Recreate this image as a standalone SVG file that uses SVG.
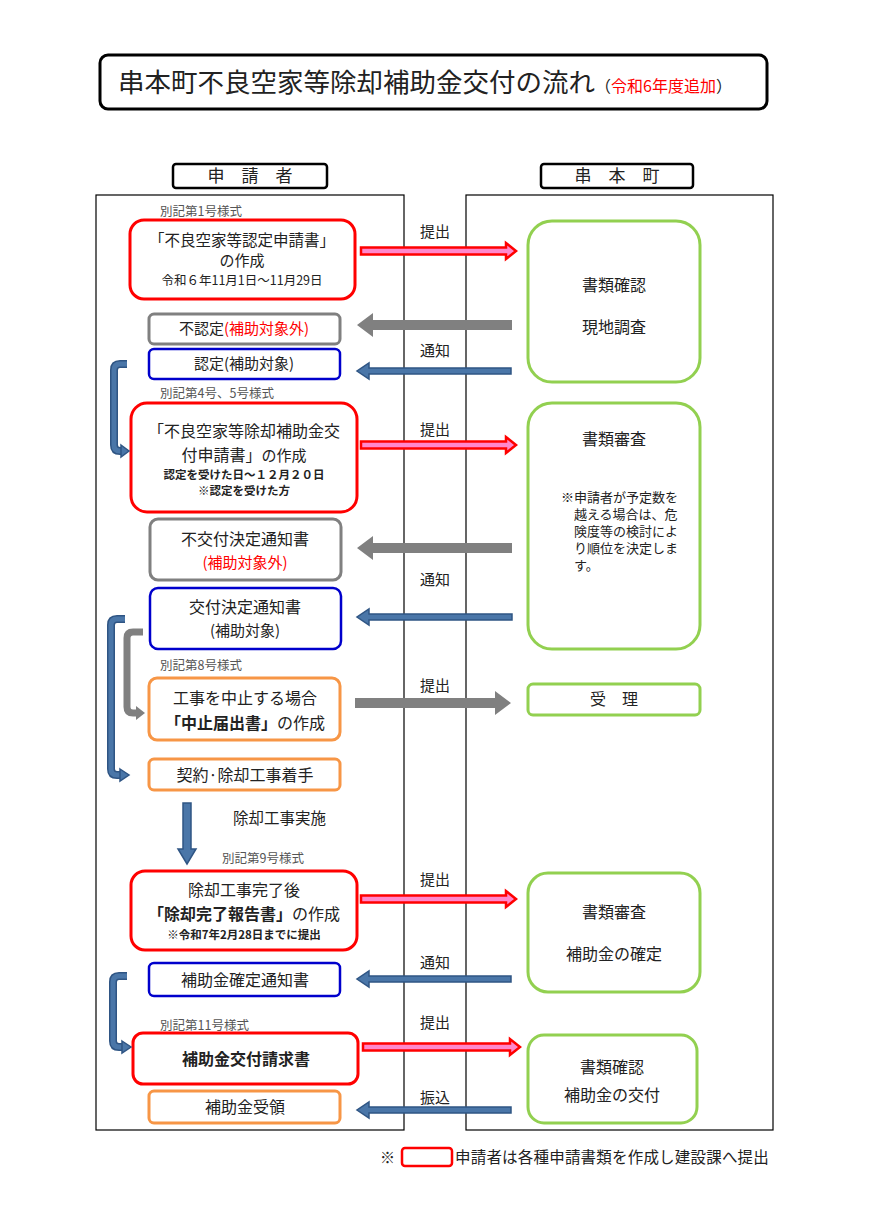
<svg xmlns="http://www.w3.org/2000/svg" width="870" height="1230" viewBox="0 0 870 1230">
<style>
text{font-family:"Noto Sans CJK JP","Noto Sans",sans-serif;fill:#222}
.t15{font-size:16px;text-anchor:middle}
.t14{font-size:15px;text-anchor:middle}
.t12b{font-size:11.5px;text-anchor:middle;font-weight:bold}
.lbl{font-size:12.5px;fill:#555}
.mid{font-size:15px;text-anchor:middle}
.red{fill:#ff0000}
.rbox{fill:#fff;stroke:#ff0000;stroke-width:3}
.gbox{fill:#fff;stroke:#808080;stroke-width:3}
.bbox{fill:#fff;stroke:#0000cc;stroke-width:2.5}
.obox{fill:#fff;stroke:#f79646;stroke-width:3}
.grn{fill:#fff;stroke:#92d050;stroke-width:3}
.col{fill:#fff;stroke:#000;stroke-width:1.2}
.ra{fill:#ff88cc;stroke:#ff0000;stroke-width:2.5;stroke-linejoin:miter}
.ba{fill:#4a76a8;stroke:#2f5584;stroke-width:1.5}
.ga{fill:#808080}
.bro{fill:none;stroke:#2f5584;stroke-width:8;stroke-linejoin:round;stroke-linecap:butt}
.bri{fill:none;stroke:#4a76a8;stroke-width:5;stroke-linejoin:round;stroke-linecap:butt}
.grb{fill:none;stroke:#808080;stroke-width:7;stroke-linejoin:round}
.note{font-size:13px}
</style>
<rect width="870" height="1230" fill="#fff"/>

<g id="title">
<rect x="100" y="55" width="667" height="54" rx="8" fill="#fff" stroke="#000" stroke-width="3"/>
<text x="118" y="92" style="font-size:26.5px">串本町不良空家等除却補助金交付の流れ<tspan style="font-size:16px">（</tspan><tspan style="font-size:16px" class="red">令和6年度追加</tspan><tspan style="font-size:16px">）</tspan></text>
</g>

<g id="header-applicant">
<rect x="173" y="164" width="154" height="24" rx="3" fill="#fff" stroke="#000" stroke-width="2.5"/>
<text x="250" y="182" class="t15" style="font-size:17px">申　請　者</text>
</g>
<g id="header-town">
<rect x="541" y="164" width="152" height="24" rx="3" fill="#fff" stroke="#000" stroke-width="2.5"/>
<text x="617" y="182" class="t15" style="font-size:17px">串　本　町</text>
</g>

<g id="columns">
<rect x="96" y="195" width="308" height="935" class="col"/>
<rect x="466" y="195" width="307" height="935" class="col"/>
</g>

<g id="n1">
<text x="160" y="216" class="lbl">別記第1号様式</text>
<rect x="130" y="220" width="225" height="79" rx="14" class="rbox"/>
<text x="242" y="246" class="t15" style="font-size:15.5px">「不良空家等認定申請書」</text>
<text x="242" y="266" class="t14">の作成</text>
<text x="242" y="285" class="t14" style="font-size:12.5px">令和６年11月1日～11月29日</text>
</g>

<g id="n2">
<rect x="149" y="314" width="191" height="30" rx="5" class="gbox"/>
<text x="244" y="334" class="t14">不認定<tspan class="red">(補助対象外)</tspan></text>
</g>

<g id="n3">
<rect x="149" y="349" width="191" height="30" rx="5" class="bbox"/>
<text x="244" y="369" class="t14">認定(補助対象)</text>
</g>

<g id="n4">
<text x="160" y="398" class="lbl">別記第4号、5号様式</text>
<rect x="131" y="403" width="226" height="109" rx="16" class="rbox"/>
<text x="244" y="437" class="t15">「不良空家等除却補助金交</text>
<text x="244" y="461" class="t15">付申請書」<tspan style="font-size:15px">の作成</tspan></text>
<text x="244" y="479" class="t12b">認定を受けた日～１２月２０日</text>
<text x="244" y="495" class="t12b">※認定を受けた方</text>
</g>

<g id="n5">
<rect x="150" y="519" width="191" height="61" rx="8" class="gbox"/>
<text x="245" y="545" class="t15">不交付決定通知書</text>
<text x="245" y="568" class="t14 red">(補助対象外)</text>
</g>

<g id="n6">
<rect x="150" y="588" width="191" height="61" rx="8" class="bbox"/>
<text x="245" y="613" class="t15">交付決定通知書</text>
<text x="245" y="636" class="t14">(補助対象)</text>
</g>

<g id="n7">
<text x="160" y="670" class="lbl">別記第8号様式</text>
<rect x="149" y="678" width="191" height="62" rx="8" class="obox"/>
<text x="245" y="704" class="t15">工事を中止する場合</text>
<text x="245" y="729" class="t15"><tspan style="font-weight:bold">「中止届出書」</tspan>の作成</text>
</g>

<g id="n8">
<rect x="149" y="759" width="191" height="31" rx="5" class="obox"/>
<text x="245" y="781" class="t15">契約·除却工事着手</text>
</g>

<g id="n9">
<text x="233" y="824" style="font-size:15.5px">除却工事実施</text>
</g>

<g id="n10">
<text x="222" y="863" class="lbl">別記第9号様式</text>
<rect x="131" y="871" width="226" height="79" rx="14" class="rbox"/>
<text x="244" y="896" class="t15">除却工事完了後</text>
<text x="244" y="920" class="t15"><tspan style="font-weight:bold">「除却完了報告書」</tspan>の作成</text>
<text x="244" y="939" class="t12b">※令和7年2月28日までに提出</text>
</g>

<g id="n11">
<rect x="149" y="963" width="191" height="33" rx="5" class="bbox"/>
<text x="245" y="986" class="t15">補助金確定通知書</text>
</g>

<g id="n12">
<text x="160" y="1030" class="lbl">別記第11号様式</text>
<rect x="133" y="1033" width="225" height="51" rx="10" class="rbox"/>
<text x="246" y="1065" class="t15" style="font-weight:bold">補助金交付請求書</text>
</g>

<g id="n13">
<rect x="149" y="1091" width="191" height="32" rx="5" class="obox"/>
<text x="245" y="1113" class="t15">補助金受領</text>
</g>

<g id="r1">
<rect x="528" y="221" width="172" height="161" rx="24" class="grn"/>
<text x="614" y="291" class="t15">書類確認</text>
<text x="614" y="333" class="t15">現地調査</text>
</g>

<g id="r2">
<rect x="528" y="403" width="172" height="246" rx="24" class="grn"/>
<text x="614" y="445" class="t15">書類審査</text>
<text x="561" y="502" class="note">※申請者が予定数を</text>
<text x="574" y="519" class="note">越える場合は、危</text>
<text x="574" y="536" class="note">険度等の検討によ</text>
<text x="574" y="553" class="note">り順位を決定しま</text>
<text x="574" y="570" class="note">す。</text>
</g>

<g id="r3">
<rect x="528" y="684" width="172" height="31" rx="5" class="grn"/>
<text x="614" y="705" class="t15">受　理</text>
</g>

<g id="r4">
<rect x="528" y="873" width="172" height="119" rx="20" class="grn"/>
<text x="614" y="918" class="t15">書類審査</text>
<text x="614" y="960" class="t15">補助金の確定</text>
</g>

<g id="r5">
<rect x="528" y="1035" width="169" height="88" rx="16" class="grn"/>
<text x="612" y="1073" class="t15">書類確認</text>
<text x="612" y="1101" class="t15">補助金の交付</text>
</g>

<g id="connectors">
<text x="435" y="237" class="mid">提出</text>
<text x="435" y="356" class="mid">通知</text>
<text x="435" y="435" class="mid">提出</text>
<text x="435" y="585" class="mid">通知</text>
<text x="435" y="691" class="mid">提出</text>
<text x="435" y="885" class="mid">提出</text>
<text x="435" y="968" class="mid">通知</text>
<text x="435" y="1028" class="mid">提出</text>
<text x="435" y="1103" class="mid">振込</text>

<polygon class="ra" points="361,247.5 506,247.5 506,243 516,251 506,259 506,254.5 361,254.5"/>
<polygon class="ra" points="361,441.5 506,441.5 506,437 516,445 506,453 506,448.5 361,448.5"/>
<polygon class="ra" points="361,895.5 506,895.5 506,891 516,899 506,907 506,902.5 361,902.5"/>
<polygon class="ra" points="363,1043.5 510,1043.5 510,1039 520,1047 510,1055 510,1050.5 363,1050.5"/>

<polygon class="ga" points="512,320 373,320 373,313 357,325 373,337 373,330 512,330"/>
<polygon class="ga" points="512,543 373,543 373,536 357,548 373,560 373,553 512,553"/>
<polygon class="ga" points="355,698 495,698 495,691 511,703 495,715 495,708 355,708"/>

<polygon class="ba" points="511,368 369,368 369,363 357,371 369,379 369,374 511,374"/>
<polygon class="ba" points="512,614 369,614 369,609 357,617 369,625 369,620 512,620"/>
<polygon class="ba" points="511,976 369,976 369,971 357,979 369,987 369,982 511,982"/>
<polygon class="ba" points="511,1107 369,1107 369,1102 357,1110 369,1118 369,1113 511,1113"/>

<polygon class="ba" points="183,803 191,803 191,849 196,849 187,864 178,849 183,849"/>

<path class="bro" d="M127,364 H120 Q114,364 114,370 V445 Q114,451 120,451 H122"/>
<path class="bri" d="M127,364 H120 Q114,364 114,370 V445 Q114,451 120,451 H122"/>
<polygon class="ba" points="121,445 129,451 121,457"/>

<path class="bro" d="M125,619 H117 Q111,619 111,625 V769 Q111,775 117,775 H121"/>
<path class="bri" d="M125,619 H117 Q111,619 111,625 V769 Q111,775 117,775 H121"/>
<polygon class="ba" points="120,769 129,775 120,781"/>

<path class="grb" d="M143,632 H133 Q127,632 127,638 V707 Q127,713 133,713 H137"/>
<polygon class="ga" points="136,706 145,713 136,720"/>

<path class="bro" d="M127,976 H119 Q113,976 113,982 V1041 Q113,1047 119,1047 H123"/>
<path class="bri" d="M127,976 H119 Q113,976 113,982 V1041 Q113,1047 119,1047 H123"/>
<polygon class="ba" points="122,1041 131,1047 122,1053"/>
</g>

<g id="footnote">
<text x="380" y="1163" style="font-size:15px">※</text>
<rect x="402" y="1148" width="50" height="18" rx="3" fill="#fff" stroke="#ff0000" stroke-width="2.5"/>
<text x="455" y="1163" style="font-size:15.5px;letter-spacing:0.2px">申請者は各種申請書類を作成し建設課へ提出</text>
</g>
</svg>
